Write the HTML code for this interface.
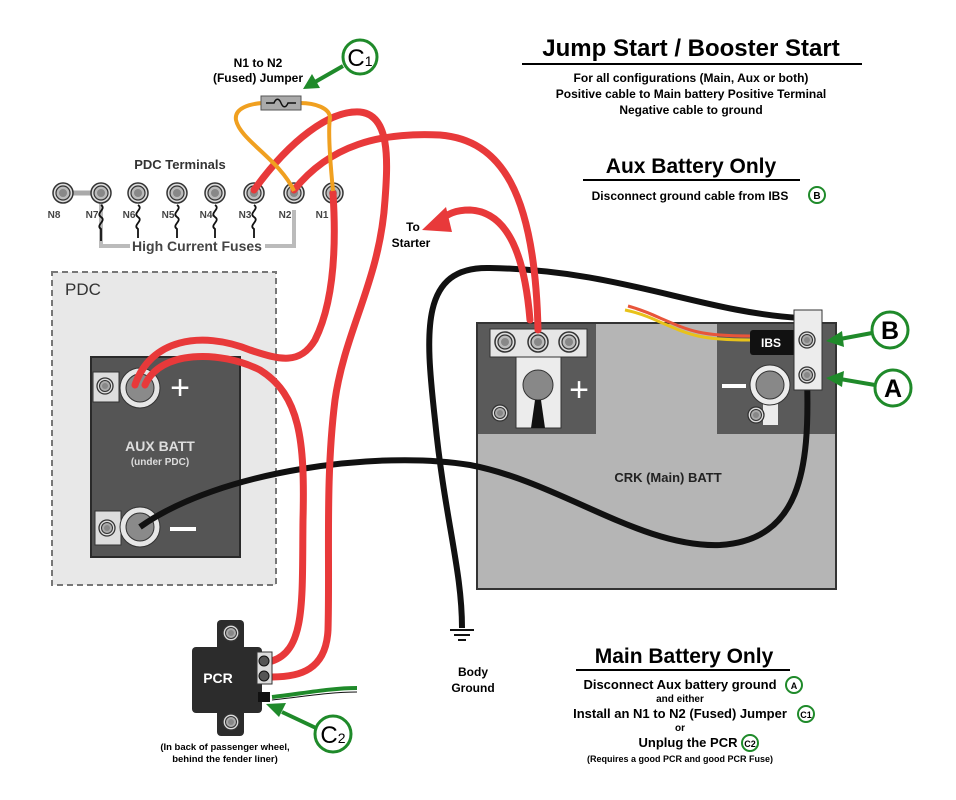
<!DOCTYPE html>
<html><head><meta charset="utf-8"><style>
html,body{margin:0;padding:0;background:#fff}
svg{display:block}
text{font-family:"Liberation Sans",sans-serif;font-weight:bold}
</style></head><body>
<svg width="956" height="800" viewBox="0 0 956 800" xmlns="http://www.w3.org/2000/svg">
<defs>
<g id="bolt"><circle r="10" fill="#ddd" stroke="#333" stroke-width="1.5"/><circle r="7" fill="#bbb" stroke="#333" stroke-width="1.2"/><circle r="4" fill="#888"/></g>
<g id="sbolt"><circle r="8" fill="#ddd" stroke="#333" stroke-width="1.3"/><circle r="5.5" fill="#aaa" stroke="#333" stroke-width="1"/><circle r="3" fill="#888"/></g>
</defs>

<text x="691" y="56" font-size="24" text-anchor="middle">Jump Start / Booster Start</text>
<line x1="522" y1="64" x2="862" y2="64" stroke="#000" stroke-width="2"/>
<text x="691" y="82" font-size="12" text-anchor="middle">For all configurations (Main, Aux or both)</text>
<text x="691" y="98" font-size="12" text-anchor="middle">Positive cable to Main battery Positive Terminal</text>
<text x="691" y="114" font-size="12" text-anchor="middle">Negative cable to ground</text>
<text x="691" y="173" font-size="21" text-anchor="middle">Aux Battery Only</text>
<line x1="583" y1="180" x2="800" y2="180" stroke="#000" stroke-width="2"/>
<text x="690" y="200" font-size="12" text-anchor="middle">Disconnect ground cable from IBS</text>
<circle cx="817" cy="195" r="8" fill="#fff" stroke="#1f8a2a" stroke-width="2"/>
<text x="817" y="199" font-size="10" text-anchor="middle">B</text>

<rect x="52" y="272" width="224" height="313" fill="#e8e8e8" stroke="#777" stroke-width="2" stroke-dasharray="6,4"/>
<text x="65" y="295" font-size="17" style="font-weight:normal" fill="#333">PDC</text>

<rect x="91" y="357" width="149" height="200" fill="#555" stroke="#2a2a2a" stroke-width="2"/>
<rect x="93" y="372" width="26" height="30" fill="#ddd" stroke="#333"/>
<use href="#sbolt" x="105" y="386"/>
<circle cx="140" cy="388" r="20" fill="#e6e6e6" stroke="#333"/>
<circle cx="140" cy="388" r="14" fill="#8a8a8a" stroke="#333"/>
<text x="180" y="399" font-size="34" fill="#fff" text-anchor="middle" style="font-weight:normal">+</text>
<text x="160" y="451" font-size="14" fill="#ddd" text-anchor="middle">AUX BATT</text>
<text x="160" y="465" font-size="10" fill="#ddd" text-anchor="middle">(under PDC)</text>
<rect x="95" y="511" width="26" height="34" fill="#ddd" stroke="#333"/>
<use href="#sbolt" x="107" y="528"/>
<circle cx="140" cy="527" r="20" fill="#e6e6e6" stroke="#333"/>
<circle cx="140" cy="527" r="14" fill="#8a8a8a" stroke="#333"/>
<line x1="170" y1="529" x2="196" y2="529" stroke="#fff" stroke-width="4"/>

<rect x="477" y="323" width="359" height="266" fill="#b5b5b5" stroke="#333" stroke-width="2"/>
<rect x="478" y="324" width="118" height="110" fill="#5a5a5a"/>
<rect x="717" y="324" width="118" height="110" fill="#5a5a5a"/>
<rect x="490" y="329" width="97" height="28" fill="#e6e6e6" stroke="#333"/>
<use href="#bolt" x="505" y="342"/><use href="#bolt" x="538" y="342"/><use href="#bolt" x="569" y="342"/>
<rect x="516" y="357" width="45" height="71" fill="#ececec" stroke="#333"/>
<circle cx="538" cy="385" r="15" fill="#888" stroke="#333"/>
<path d="M535 400 L541 400 L545 428 L531 428 Z" fill="#111"/>
<text x="579" y="401" font-size="34" fill="#fff" text-anchor="middle" style="font-weight:normal">+</text>
<use href="#sbolt" x="500" y="413"/>
<line x1="722" y1="386" x2="746" y2="386" stroke="#fff" stroke-width="4"/>
<rect x="763" y="385" width="15" height="40" fill="#ececec"/>
<circle cx="770" cy="385" r="20" fill="#ececec" stroke="#333"/>
<circle cx="770" cy="385" r="14" fill="#888" stroke="#333"/>
<use href="#sbolt" x="756" y="415"/>
<text x="668" y="482" font-size="13" fill="#222" text-anchor="middle">CRK (Main) BATT</text>

<path d="M750 340 C700 340 690 335 660 322 C645 315 635 312 625 310" fill="none" stroke="#e8c21a" stroke-width="3"/>
<path d="M750 336 C700 336 690 331 660 318 C645 311 635 308 628 306" fill="none" stroke="#e8553a" stroke-width="3"/>
<rect x="750" y="330" width="46" height="25" rx="3" fill="#111"/>
<text x="771" y="347" font-size="12" fill="#fff" text-anchor="middle">IBS</text>

<path d="M800 318 C700 312 620 270 490 268 C420 266 425 330 435 420 C445 520 462 570 462 628" fill="none" stroke="#111" stroke-width="6"/>
<path d="M140 527 C220 470 380 450 470 465 C560 482 640 548 720 545 C800 540 810 470 807 378" fill="none" stroke="#111" stroke-width="6"/>
<rect x="794" y="310" width="28" height="80" fill="#ececec" stroke="#333"/>
<use href="#sbolt" x="807" y="340"/><use href="#sbolt" x="807" y="375"/>

<line x1="450" y1="630" x2="474" y2="630" stroke="#111" stroke-width="2"/>
<line x1="454" y1="635" x2="470" y2="635" stroke="#111" stroke-width="2"/>
<line x1="458" y1="640" x2="466" y2="640" stroke="#111" stroke-width="2"/>
<text x="473" y="676" font-size="12" text-anchor="middle">Body</text>
<text x="473" y="692" font-size="12" text-anchor="middle">Ground</text>

<text x="180" y="169" font-size="13" fill="#333" text-anchor="middle">PDC Terminals</text>
<line x1="63" y1="193" x2="101" y2="193" stroke="#aaa" stroke-width="5"/>
<path d="M101 203 V246 H294 V210" fill="none" stroke="#bbb" stroke-width="4"/>
<g fill="none" stroke="#111" stroke-width="1.8">
<path d="M101 205 c6 4 -6 8 0 12 c6 4 -6 8 0 12 v12"/>
<path d="M138 205 c6 4 -6 8 0 12 c6 4 -6 8 0 12 v12"/>
<path d="M177 205 c6 4 -6 8 0 12 c6 4 -6 8 0 12 v12"/>
<path d="M215 205 c6 4 -6 8 0 12 c6 4 -6 8 0 12 v12"/>
<path d="M254 205 c6 4 -6 8 0 12 c6 4 -6 8 0 12 v12"/>
</g>
<rect x="130" y="238" width="135" height="16" fill="#fff"/>
<text x="197" y="251" font-size="14" fill="#444" text-anchor="middle">High Current Fuses</text>
<g>
<use href="#bolt" x="63" y="193"/><use href="#bolt" x="101" y="193"/><use href="#bolt" x="138" y="193"/><use href="#bolt" x="177" y="193"/>
<use href="#bolt" x="215" y="193"/><use href="#bolt" x="254" y="193"/><use href="#bolt" x="294" y="193"/><use href="#bolt" x="333" y="193"/>
</g>
<g font-size="10" fill="#444" text-anchor="middle">
<text x="54" y="218">N8</text><text x="92" y="218">N7</text><text x="129" y="218">N6</text><text x="168" y="218">N5</text>
<text x="206" y="218">N4</text><text x="245" y="218">N3</text><text x="285" y="218">N2</text><text x="322" y="218">N1</text>
</g>

<g fill="none" stroke="#e8393a" stroke-width="7" stroke-linecap="round">
<path d="M254 190 C290 140 330 110 360 112 C390 115 388 160 385 200 C380 280 345 330 335 400 C325 480 330 560 328 630 C326 670 300 677 272 677"/>
<path d="M294 190 C330 145 380 132 440 135 C500 140 535 190 538 330"/>
<path d="M333 193 C336 240 335 300 315 340 C300 365 280 360 250 350 C200 330 150 340 135 385"/>
<path d="M145 385 C160 350 220 350 260 370 C300 395 305 440 303 520 C302 600 306 650 272 661"/>
<path d="M530 320 C525 260 510 212 470 210 C455 210 448 214 440 220"/>
</g>
<path d="M422 230 L446 207 L452 232 Z" fill="#e8393a"/>
<text x="413" y="231" font-size="12" text-anchor="middle">To</text>
<text x="411" y="247" font-size="12" text-anchor="middle">Starter</text>

<path d="M294 191 C280 160 240 140 236 120 C234 108 250 104 262 103" fill="none" stroke="#f0a020" stroke-width="4"/>
<path d="M333 191 C330 160 328 130 330 118 C330 108 315 103 300 103" fill="none" stroke="#f0a020" stroke-width="4"/>
<rect x="261" y="96" width="40" height="14" fill="#aaa" stroke="#555"/>
<path d="M266 103 h8 c2 -5 5 -5 7 0 c2 5 5 5 7 0 h8" fill="none" stroke="#111" stroke-width="1.5"/>
<text x="258" y="67" font-size="12" text-anchor="middle">N1 to N2</text>
<text x="258" y="82" font-size="12" text-anchor="middle">(Fused) Jumper</text>

<g stroke="#1f8a2a" stroke-width="3" fill="#fff">
<circle cx="360" cy="57" r="17"/>
<circle cx="890" cy="330" r="18"/>
<circle cx="893" cy="388" r="18"/>
<circle cx="333" cy="734" r="18"/>
</g>
<g stroke="#1f8a2a" stroke-width="4" fill="none">
<line x1="343" y1="66" x2="315" y2="82"/>
<line x1="872" y1="333" x2="840" y2="339"/>
<line x1="875" y1="385" x2="840" y2="379"/>
<line x1="316" y1="728" x2="282" y2="712"/>
</g>
<g fill="#1f8a2a">
<path d="M303 89 L312 74 L320 88 Z"/>
<path d="M826 341 L842 331 L844 347 Z"/>
<path d="M826 378 L844 371 L842 387 Z"/>
<path d="M266 704 L286 703 L279 717 Z"/>
</g>
<text x="360" y="66" font-size="24" text-anchor="middle" style="font-weight:normal">C<tspan font-size="14">1</tspan></text>
<text x="890" y="339" font-size="25" text-anchor="middle">B</text>
<text x="893" y="397" font-size="25" text-anchor="middle">A</text>
<text x="333" y="743" font-size="24" text-anchor="middle" style="font-weight:normal">C<tspan font-size="14">2</tspan></text>

<path d="M272 697 C300 694 330 688 357 688" fill="none" stroke="#1f8a2a" stroke-width="4"/>
<path d="M272 700 C300 697 330 692 357 692" fill="none" stroke="#111" stroke-width="1"/>
<rect x="217" y="620" width="27" height="116" rx="4" fill="#2c2c2c"/>
<rect x="192" y="647" width="70" height="66" rx="4" fill="#2c2c2c"/>
<use href="#sbolt" x="231" y="633"/><use href="#sbolt" x="231" y="722"/>
<rect x="257" y="652" width="15" height="32" fill="#ddd" stroke="#333"/>
<circle cx="264" cy="661" r="5" fill="#555" stroke="#111"/>
<circle cx="264" cy="676" r="5" fill="#555" stroke="#111"/>
<rect x="258" y="692" width="12" height="10" fill="#111"/>
<text x="218" y="683" font-size="14" fill="#fff" text-anchor="middle">PCR</text>
<text x="225" y="750" font-size="9.5" text-anchor="middle">(In back of passenger wheel,</text>
<text x="225" y="762" font-size="9.5" text-anchor="middle">behind the fender liner)</text>

<text x="684" y="663" font-size="21" text-anchor="middle">Main Battery Only</text>
<line x1="576" y1="670" x2="790" y2="670" stroke="#000" stroke-width="2"/>
<text x="680" y="689" font-size="13" text-anchor="middle">Disconnect Aux battery ground</text>
<text x="680" y="702" font-size="10" text-anchor="middle">and either</text>
<text x="680" y="718" font-size="13" text-anchor="middle">Install an N1 to N2 (Fused) Jumper</text>
<text x="680" y="731" font-size="10" text-anchor="middle">or</text>
<text x="688" y="747" font-size="13" text-anchor="middle">Unplug the PCR</text>
<text x="680" y="762" font-size="9" text-anchor="middle">(Requires a good PCR and good PCR Fuse)</text>
<g fill="#fff" stroke="#1f8a2a" stroke-width="2">
<circle cx="794" cy="685" r="8"/><circle cx="806" cy="714" r="8"/><circle cx="750" cy="743" r="8"/>
</g>
<g font-size="9" text-anchor="middle">
<text x="794" y="689">A</text><text x="806" y="718">C1</text><text x="750" y="747">C2</text>
</g>
</svg>
</body></html>
